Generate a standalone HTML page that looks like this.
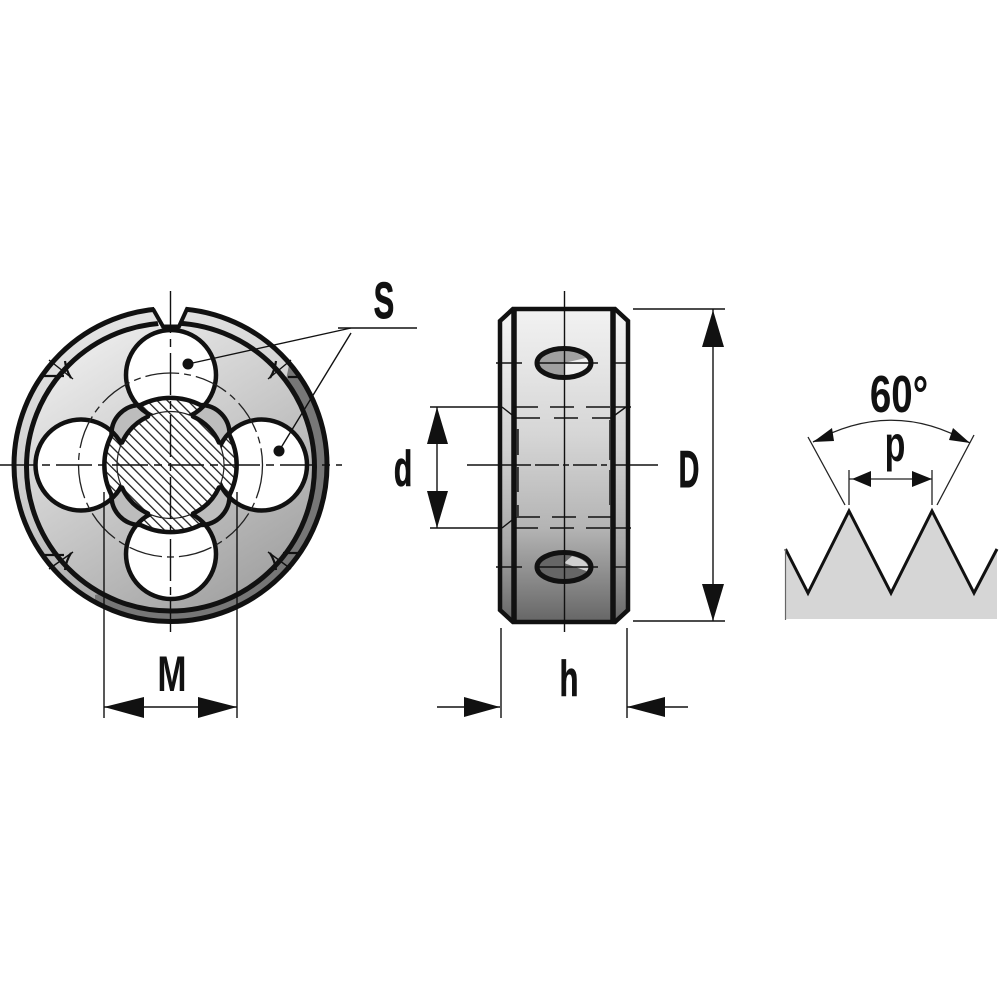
<!DOCTYPE html>
<html><head><meta charset="utf-8"><style>html,body{margin:0;padding:0;background:#fff}svg{display:block}text{font-family:"Liberation Sans",sans-serif;font-weight:bold;fill:#111;text-anchor:middle}</style></head><body>
<svg width="1000" height="1000" viewBox="0 0 1000 1000" xmlns="http://www.w3.org/2000/svg">
<defs>
<linearGradient id="body" x1="0.15" y1="0.05" x2="0.75" y2="1"><stop offset="0" stop-color="#eeeeee"/><stop offset="0.5" stop-color="#c8c8c8"/><stop offset="1" stop-color="#a0a0a0"/></linearGradient>
<linearGradient id="band" x1="0.2" y1="0" x2="0.5" y2="1"><stop offset="0" stop-color="#e6e6e6"/><stop offset="0.6" stop-color="#c8c8c8"/><stop offset="1" stop-color="#999"/></linearGradient>
<linearGradient id="side" x1="0" y1="0" x2="0" y2="1"><stop offset="0" stop-color="#f6f6f6"/><stop offset="0.45" stop-color="#d0d0d0"/><stop offset="0.75" stop-color="#a8a8a8"/><stop offset="1" stop-color="#666"/></linearGradient>
<linearGradient id="mid" x1="0" y1="0" x2="0" y2="1"><stop offset="0" stop-color="#f2f2f2"/><stop offset="0.4" stop-color="#d6d6d6"/><stop offset="0.7" stop-color="#b4b4b4"/><stop offset="1" stop-color="#666"/></linearGradient>
<pattern id="hatch" width="7.2" height="7.2" patternUnits="userSpaceOnUse" patternTransform="rotate(-45)"><rect width="7.2" height="7.2" fill="#fff"/><rect width="1.3" height="7.2" fill="#222"/></pattern>
<clipPath id="cc"><path d="M140.5 405 A66.5 66.5 0 0 1 200.5 405 A29 29 0 0 1 229.5 435 A66.5 66.5 0 0 1 229.5 495 A29 29 0 0 1 200.5 525 A66.5 66.5 0 0 1 140.5 525 A29 29 0 0 1 111.5 495 A66.5 66.5 0 0 1 111.5 435 A29 29 0 0 1 140.5 405 Z"/></clipPath>
<clipPath id="dark"><path d="M290 360 L345 360 L345 640 L95 640 L95 595 L250 560 Z"/></clipPath>
</defs>

<!-- left view -->
<circle cx="170.5" cy="465" r="157" fill="url(#band)"/>
<g clip-path="url(#dark)"><circle cx="170.5" cy="465" r="157" fill="#777"/></g>
<circle cx="170.5" cy="465" r="156.5" fill="none" stroke="#111" stroke-width="5"/>
<circle cx="170.5" cy="467" r="144" fill="url(#body)" stroke="#111" stroke-width="5"/>
<polygon points="153,303 187,303 179,327 163,327 159,327" fill="#fff"/>
<polyline points="153,309 163,326.5 179,326.5 187,309" fill="none" stroke="#111" stroke-width="4"/>

<g fill="#fff" stroke="#111" stroke-width="4.5">
<circle cx="171" cy="375" r="45"/><circle cx="81" cy="465" r="45.5"/><circle cx="261.5" cy="465" r="45.5"/><circle cx="171" cy="554" r="45"/>
</g>
<path d="M140.5 405 A66.5 66.5 0 0 1 200.5 405 A29 29 0 0 1 229.5 435 A66.5 66.5 0 0 1 229.5 495 A29 29 0 0 1 200.5 525 A66.5 66.5 0 0 1 140.5 525 A29 29 0 0 1 111.5 495 A66.5 66.5 0 0 1 111.5 435 A29 29 0 0 1 140.5 405 Z" fill="#bdbdbd"/>
<g clip-path="url(#cc)" fill="url(#hatch)" stroke="#111" stroke-width="4.5">
<circle cx="171" cy="375" r="45"/><circle cx="81" cy="465" r="45.5"/><circle cx="261.5" cy="465" r="45.5"/><circle cx="171" cy="554" r="45"/>
</g>
<path d="M140.5 405 A66.5 66.5 0 0 1 200.5 405 A29 29 0 0 1 229.5 435 A66.5 66.5 0 0 1 229.5 495 A29 29 0 0 1 200.5 525 A66.5 66.5 0 0 1 140.5 525 A29 29 0 0 1 111.5 495 A66.5 66.5 0 0 1 111.5 435 A29 29 0 0 1 140.5 405 Z" fill="none" stroke="#111" stroke-width="4.5"/>
<circle cx="170.5" cy="465" r="53.5" fill="url(#hatch)" stroke="#222" stroke-width="1.2"/>
<g fill="none" stroke="#111" stroke-width="4.5" stroke-linecap="round">
<path d="M148 416.5 A53.5 53.5 0 0 0 122 442.5"/>
<path d="M193 416.5 A53.5 53.5 0 0 1 219 442.5"/>
<path d="M219 487.5 A53.5 53.5 0 0 1 193 513.5"/>
<path d="M122 487.5 A53.5 53.5 0 0 0 148 513.5"/>
</g>

<circle cx="170.5" cy="465" r="92" fill="none" stroke="#222" stroke-width="1.3" stroke-dasharray="34 5 7 5"/>
<g stroke="#111" stroke-width="1.4" fill="none">
<line x1="0" y1="465" x2="342" y2="465" stroke-dasharray="36 6 8 6"/>
<line x1="170.5" y1="291" x2="170.5" y2="632" stroke-dasharray="42 6 8 6"/>
<line x1="104" y1="492" x2="104" y2="718"/><line x1="237" y1="492" x2="237" y2="718"/>
<line x1="104" y1="707" x2="237" y2="707"/>
<line x1="49" y1="360" x2="73" y2="379"/><line x1="291" y1="360" x2="268" y2="379"/>
<line x1="49" y1="569" x2="73" y2="552"/><line x1="291" y1="569" x2="268" y2="552"/>
</g>
<g stroke="#111" stroke-width="2.2" fill="none">
<path d="M65 361 Q66 370 71 378"/><path d="M276 361 Q275 370 270 378"/>
<path d="M65 570 Q66 561 71 553"/><path d="M276 570 Q275 561 270 553"/>
<path d="M43 376 H64"/><path d="M288 377 H298"/><path d="M45 555 H64"/><path d="M283 553 H298"/>
</g>
<polygon points="104,707 144,697 144,718" fill="#111"/><polygon points="237,707 198,697 198,718" fill="#111"/>
<text transform="translate(172,691) scale(0.7,1)" font-size="50">M</text>

<!-- S -->
<g stroke="#111" stroke-width="1.4" fill="none">
<line x1="338" y1="328" x2="417" y2="328"/>
<line x1="188" y1="364" x2="351" y2="328"/>
<line x1="279" y1="451" x2="351" y2="333"/>
</g>
<circle cx="188" cy="364" r="5.5" fill="#111"/><circle cx="279" cy="451" r="5.5" fill="#111"/>
<text transform="translate(384,318) scale(0.6,1)" font-size="51" stroke="#111" stroke-width="1">S</text>

<!-- middle view -->
<polygon points="500,321 513,309 615,309 628,321 628,610 615,622 513,622 500,610" fill="url(#side)"/>
<rect x="514" y="309" width="99" height="313" fill="url(#mid)"/>
<polygon points="500,321 513,309 615,309 628,321 628,610 615,622 513,622 500,610" fill="none" stroke="#111" stroke-width="4.5"/>
<line x1="514" y1="309" x2="514" y2="622" stroke="#111" stroke-width="5.5"/>
<line x1="613" y1="309" x2="613" y2="622" stroke="#111" stroke-width="5.5"/>

<g>
<ellipse cx="564" cy="363" rx="27" ry="14.5" fill="#a0a0a0"/>
<path d="M564 363 L590 357 Q592 372 564 377 Z" fill="#efefef"/>
<ellipse cx="564" cy="363" rx="27" ry="14.5" fill="none" stroke="#111" stroke-width="5"/>
<ellipse cx="564" cy="567" rx="27" ry="14.5" fill="#666"/>
<path d="M564 563 L572 556 Q590 560 589 572 Z" fill="#d0d0d0"/>
<ellipse cx="564" cy="567" rx="27" ry="14.5" fill="none" stroke="#111" stroke-width="5"/>
</g>

<g stroke="#111" stroke-width="1.4" fill="none">
<line x1="564.5" y1="291" x2="564.5" y2="632"/>
<line x1="496" y1="363" x2="522" y2="363"/><line x1="537" y1="363" x2="598" y2="363"/><line x1="612" y1="363" x2="630" y2="363"/>
<line x1="496" y1="567" x2="522" y2="567"/><line x1="537" y1="567" x2="598" y2="567"/><line x1="612" y1="567" x2="630" y2="567"/>
<line x1="467" y1="465" x2="525" y2="465"/><line x1="525" y1="465" x2="610" y2="465" stroke-dasharray="6 4 24 4"/><line x1="615" y1="465" x2="658" y2="465"/>
<line x1="430" y1="407" x2="500" y2="407"/><line x1="430" y1="528" x2="500" y2="528"/>
<line x1="514" y1="407" x2="613" y2="407" stroke-dasharray="24 12"/><line x1="614" y1="407" x2="631" y2="407"/>
<line x1="514" y1="528" x2="613" y2="528" stroke-dasharray="24 12"/><line x1="614" y1="528" x2="631" y2="528"/>
<line x1="516" y1="418" x2="611" y2="418" stroke-dasharray="24 14"/>
<line x1="516" y1="517" x2="611" y2="517" stroke-dasharray="24 12"/>
<path d="M502 407 L516 418"/><path d="M502 528 L516 517"/><path d="M626 407 L611 418"/>
<line x1="437" y1="407" x2="437" y2="528"/>
<line x1="713" y1="309" x2="713" y2="621"/>
<line x1="633" y1="309" x2="725" y2="309"/><line x1="633" y1="621" x2="725" y2="621"/>
<line x1="501" y1="628" x2="501" y2="718"/><line x1="627" y1="628" x2="627" y2="718"/>
<line x1="437" y1="707" x2="500" y2="707"/><line x1="627" y1="707" x2="688" y2="707"/>
</g>
<g stroke="#333" stroke-width="2.8" fill="none">
<line x1="517.5" y1="429" x2="517.5" y2="455" /><line x1="517.5" y1="467" x2="517.5" y2="492"/><line x1="517.5" y1="505" x2="517.5" y2="517"/>
<line x1="610" y1="420" x2="610" y2="460" stroke-width="1.8"/><line x1="610" y1="470" x2="610" y2="505" stroke-width="1.8"/>
</g>
<polygon points="437,407 427,444 448,444" fill="#111"/><polygon points="437,528 427,491 448,491" fill="#111"/>
<polygon points="713,310 702,347 724,347" fill="#111"/><polygon points="713,621 702,584 724,584" fill="#111"/>
<polygon points="500,707 464,697 464,717" fill="#111"/><polygon points="627,707 665,697 665,717" fill="#111"/>
<text transform="translate(403,486) scale(0.6,1)" font-size="50" stroke="#111" stroke-width="0.8">d</text>
<text transform="translate(689,487) scale(0.55,1)" font-size="52" stroke="#111" stroke-width="1">D</text>
<text transform="translate(569,696) scale(0.62,1)" font-size="50" stroke="#111" stroke-width="0.8">h</text>

<!-- thread -->
<polygon points="785.5,549 808,593 849,511 891,593 932,511 974,593 997,549 997,619 785.5,619" fill="#d6d6d6"/>
<polyline points="785.5,549 808,593 849,511 891,593 932,511 974,593 997,549" fill="none" stroke="#111" stroke-width="3"/>
<line x1="785.5" y1="549" x2="785.5" y2="620" stroke="#666" stroke-width="1.2"/>
<g stroke="#222" stroke-width="1.3" fill="none">
<line x1="845" y1="505" x2="808" y2="437"/><line x1="937" y1="505" x2="974" y2="435"/>
<line x1="849" y1="470" x2="849" y2="505"/><line x1="932" y1="470" x2="932" y2="505"/>
<line x1="849" y1="479" x2="932" y2="479"/>
<path d="M813 442 Q893 398 970 443"/>
</g>
<polygon points="852,479 871,471 871,487" fill="#111"/><polygon points="932,479 912,471 912,487" fill="#111"/>
<polygon points="813,442 832,428 834,441" fill="#111"/><polygon points="970,443 949,440 953,428" fill="#111"/>
<text transform="translate(899,412) scale(0.74,1)" font-size="52">60°</text>
<text transform="translate(895,461) scale(0.68,1)" font-size="50">p</text>
</svg>
</body></html>
